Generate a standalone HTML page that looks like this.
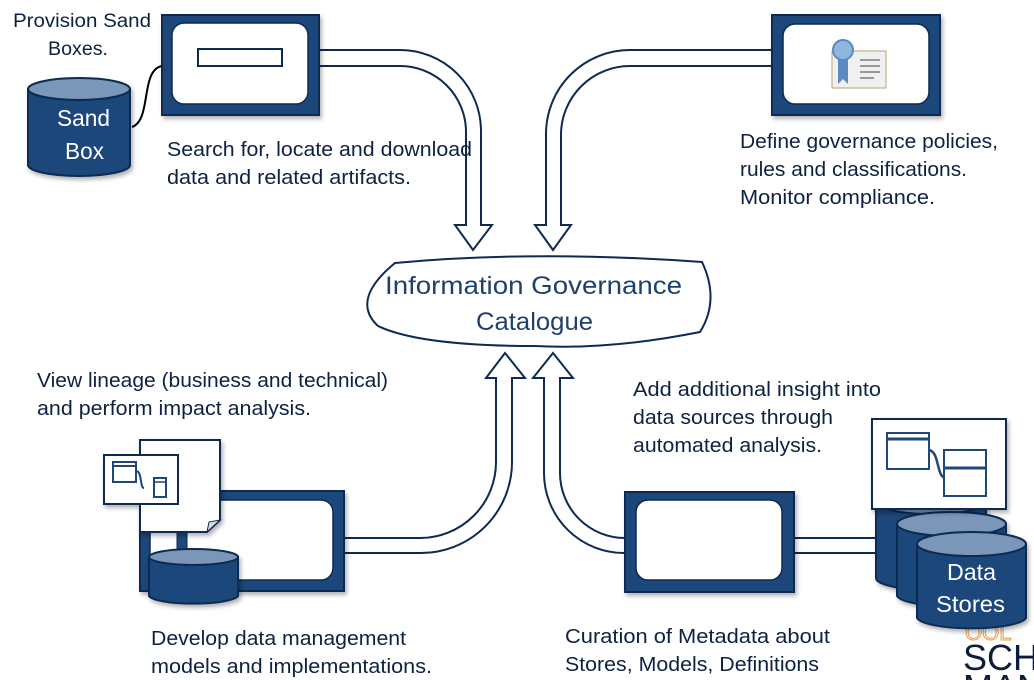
<!DOCTYPE html>
<html><head><meta charset="utf-8"><style>
html,body{margin:0;padding:0;background:#fff;width:1034px;height:680px;overflow:hidden}
svg{display:block}
text{font-family:"Liberation Sans",sans-serif}
</style></head><body>
<svg width="1034" height="680" viewBox="0 0 1034 680" xmlns="http://www.w3.org/2000/svg">
<defs>
<filter id="sh" x="-10%" y="-10%" width="130%" height="130%"><feDropShadow dx="2" dy="3" stdDeviation="2" flood-color="#000" flood-opacity="0.3"/></filter>
</defs>
<g fill="#fff" stroke="#0d2a52" stroke-width="2" stroke-linejoin="miter">
<path d="M319,50 H400 A81,81 0 0 1 481,131 V225 H492 L473,250 L455,225 H466 V131 A66,66 0 0 0 400,66 H319 Z"/>
<path d="M772,50 H630 A84,84 0 0 0 546,134 V225 H535 L553,250 L571,225 H561 V134 A69,69 0 0 1 630,66 H772 Z"/>
<path d="M344,538 H420 A76,76 0 0 0 496,462 V378 H486 L505,353 L525,378 H512 V462 A91,91 0 0 1 420,553 H344 Z"/>
<path d="M625,538 A65,65 0 0 1 560,473 V378 H573 L553,353 L533,378 H544 V473 A80,80 0 0 0 625,553 Z"/>
<rect x="794" y="538" width="86" height="15"/>
</g>
<!-- cloud -->
<path d="M395,263 Q535,250 702,262 Q720,300 700,332 Q610,350 535,346 Q420,346 378,326 Q350,300 395,263 Z" fill="#fff" stroke="#0d2a52" stroke-width="2"/>
<text x="385" y="294" font-size="25" fill="#1f3f6e" textLength="297" lengthAdjust="spacingAndGlyphs">Information Governance</text>
<text x="476" y="330" font-size="25" fill="#1f3f6e" textLength="117" lengthAdjust="spacingAndGlyphs">Catalogue</text>
<!-- top-left box -->
<rect x="162" y="15" width="157" height="100" fill="#1f477a" stroke="#0d2a52" stroke-width="2" filter="url(#sh)"/>
<rect x="172" y="23" width="136" height="81" rx="12" fill="#fff" stroke="#0d2a52" stroke-width="1.5"/>
<rect x="198" y="49" width="84" height="17" fill="#fff" stroke="#0d2a52" stroke-width="2"/>
<!-- sandbox -->
<path d="M132,127 C152,120 140,70 162,66" fill="none" stroke="#000" stroke-width="2"/>
<g filter="url(#sh)">
<path d="M28,89 V165 A51,11 0 0 0 130,165 V89 Z" fill="#1f477a" stroke="#0d2a52" stroke-width="2"/>
<ellipse cx="79" cy="89" rx="51" ry="11" fill="#7a96b8" stroke="#0d2a52" stroke-width="2"/>
</g>
<text x="57" y="126" font-size="23" fill="#fff" textLength="53" lengthAdjust="spacingAndGlyphs">Sand</text>
<text x="65" y="159" font-size="23" fill="#fff" textLength="39" lengthAdjust="spacingAndGlyphs">Box</text>
<text x="13" y="27" font-size="19" fill="#0d2240" textLength="138" lengthAdjust="spacingAndGlyphs">Provision Sand</text>
<text x="48" y="55" font-size="19" fill="#0d2240" textLength="60" lengthAdjust="spacingAndGlyphs">Boxes.</text>
<g font-size="20" fill="#0d2240">
<text x="167" y="156" textLength="305" lengthAdjust="spacingAndGlyphs">Search for, locate and download</text>
<text x="167" y="184" textLength="244" lengthAdjust="spacingAndGlyphs">data and related artifacts.</text>
<text x="740" y="148" textLength="258" lengthAdjust="spacingAndGlyphs">Define governance policies,</text>
<text x="740" y="176" textLength="227" lengthAdjust="spacingAndGlyphs">rules and classifications.</text>
<text x="740" y="204" textLength="195" lengthAdjust="spacingAndGlyphs">Monitor compliance.</text>
<text x="37" y="387" textLength="351" lengthAdjust="spacingAndGlyphs">View lineage (business and technical)</text>
<text x="37" y="415" textLength="274" lengthAdjust="spacingAndGlyphs">and perform impact analysis.</text>
<text x="151" y="645" textLength="255" lengthAdjust="spacingAndGlyphs">Develop data management</text>
<text x="151" y="673" textLength="281" lengthAdjust="spacingAndGlyphs">models and implementations.</text>
<text x="633" y="396" textLength="248" lengthAdjust="spacingAndGlyphs">Add additional insight into</text>
<text x="633" y="424" textLength="200" lengthAdjust="spacingAndGlyphs">data sources through</text>
<text x="633" y="452" textLength="189" lengthAdjust="spacingAndGlyphs">automated analysis.</text>
<text x="565" y="643" textLength="265" lengthAdjust="spacingAndGlyphs">Curation of Metadata about</text>
<text x="565" y="671" textLength="254" lengthAdjust="spacingAndGlyphs">Stores, Models, Definitions</text>
</g>
<!-- top-right box -->
<rect x="772" y="15" width="168" height="100" fill="#1f477a" stroke="#0d2a52" stroke-width="2" filter="url(#sh)"/>
<rect x="783" y="24" width="146" height="80" rx="12" fill="#fff" stroke="#0d2a52" stroke-width="1.5"/>
<rect x="832" y="51" width="54" height="37" fill="#f0f0f0" stroke="#b8a67a" stroke-width="1"/>
<line x1="860" y1="60" x2="880" y2="60" stroke="#999" stroke-width="2"/>
<line x1="860" y1="66" x2="880" y2="66" stroke="#999" stroke-width="2"/>
<line x1="860" y1="72" x2="880" y2="72" stroke="#999" stroke-width="2"/>
<line x1="860" y1="78" x2="874" y2="78" stroke="#999" stroke-width="2"/>
<path d="M838,58 V84 L843,79 L848,84 V58 Z" fill="#5a8abf"/>
<circle cx="843" cy="50" r="10" fill="#8fb6dd" stroke="#5a8abf" stroke-width="2"/>
<!-- bottom-left -->
<rect x="140" y="491" width="204" height="100" fill="#1f477a" stroke="#0d2a52" stroke-width="2" filter="url(#sh)"/>
<rect x="150" y="500" width="183" height="80" rx="12" fill="#fff" stroke="#0d2a52" stroke-width="1.5"/>
<rect x="177" y="530" width="10" height="26" fill="#1f477a" stroke="#0d2a52"/>
<g filter="url(#sh)">
<path d="M140,440 H220 V520 L207,532 H140 Z" fill="#fff" stroke="#0d2a52" stroke-width="2"/>
<path d="M220,520 L207,532 L209,522 Z" fill="#ddd" stroke="#0d2a52" stroke-width="1"/>
<rect x="104" y="455" width="74" height="49" fill="#fff" stroke="#0d2a52" stroke-width="2"/>
</g>
<rect x="113" y="462" width="23" height="20" fill="#fff" stroke="#1f477a" stroke-width="2"/>
<line x1="113" y1="466" x2="136" y2="466" stroke="#1f477a" stroke-width="2"/>
<path d="M137,471 C142,473 140,488 144,488" fill="none" stroke="#1f477a" stroke-width="2"/>
<rect x="154" y="478" width="12" height="19" fill="#fff" stroke="#1f477a" stroke-width="2"/>
<line x1="154" y1="482" x2="166" y2="482" stroke="#1f477a" stroke-width="1.5"/>
<g filter="url(#sh)">
<path d="M149,557 V596 A45,9 0 0 0 238,596 V557 Z" fill="#1f477a" stroke="#0d2a52" stroke-width="2"/>
<ellipse cx="193.5" cy="557" rx="44.5" ry="8" fill="#7a96b8" stroke="#0d2a52" stroke-width="2"/>
</g>
<!-- bottom-center -->
<rect x="625" y="492" width="169" height="100" fill="#1f477a" stroke="#0d2a52" stroke-width="2" filter="url(#sh)"/>
<rect x="636" y="500" width="146" height="80" rx="12" fill="#fff" stroke="#0d2a52" stroke-width="1.5"/>
<!-- logo -->
<text x="965" y="640" font-size="22" fill="none" stroke="#e89a4a" stroke-width="1">OOL</text>
<text x="963" y="670" font-size="36" fill="#0d1d3a">SCHO</text>
<text x="963" y="700" font-size="36" fill="#0d1d3a">MAN</text>
<!-- data stores -->
<g filter="url(#sh)">
<path d="M876,502 V578 A55,12 0 0 0 986,578 V502 Z" fill="#1f477a" stroke="#0d2a52" stroke-width="2"/>
<ellipse cx="931" cy="502" rx="55" ry="12" fill="#7a96b8" stroke="#0d2a52" stroke-width="2"/>
<path d="M897,524 V596 A55,12 0 0 0 1006,596 V524 Z" fill="#1f477a" stroke="#0d2a52" stroke-width="2"/>
<ellipse cx="951.5" cy="524" rx="54.5" ry="12" fill="#7a96b8" stroke="#0d2a52" stroke-width="2"/>
<path d="M917,544 V618 A55,12 0 0 0 1026,618 V544 Z" fill="#1f477a" stroke="#0d2a52" stroke-width="2"/>
<ellipse cx="971.5" cy="544" rx="54.5" ry="12" fill="#7a96b8" stroke="#0d2a52" stroke-width="2"/>
</g>
<text x="947" y="580" font-size="23" fill="#fff" textLength="49" lengthAdjust="spacingAndGlyphs">Data</text>
<text x="936" y="612" font-size="23" fill="#fff" textLength="69" lengthAdjust="spacingAndGlyphs">Stores</text>
<rect x="872" y="419" width="134" height="90" fill="#fff" stroke="#0d2a52" stroke-width="2" filter="url(#sh)"/>
<rect x="887" y="433" width="42" height="36" fill="#fff" stroke="#1f477a" stroke-width="2"/>
<line x1="887" y1="439" x2="929" y2="439" stroke="#1f477a" stroke-width="3"/>
<path d="M929,450 C940,452 936,478 946,478" fill="none" stroke="#1f477a" stroke-width="2.5"/>
<rect x="944" y="450" width="42" height="46" fill="#fff" stroke="#1f477a" stroke-width="2"/>
<line x1="944" y1="468" x2="986" y2="468" stroke="#1f477a" stroke-width="3"/>
</svg>
</body></html>
